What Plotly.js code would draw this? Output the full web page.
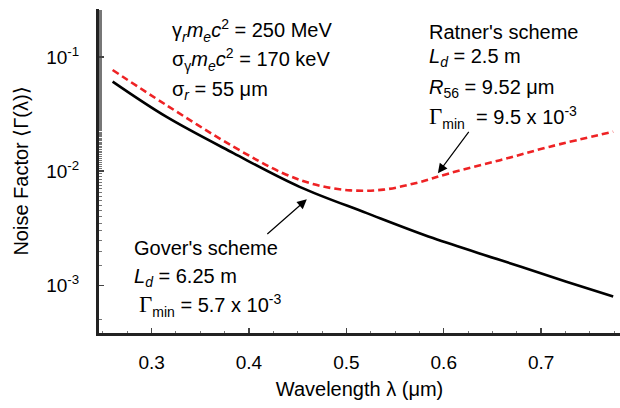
<!DOCTYPE html>
<html>
<head>
<meta charset="utf-8">
<script src="https://cdn.plot.ly/plotly-3.0.1.min.js"></script>
<style>html,body{margin:0;padding:0;background:#fff;overflow:hidden}</style>
</head>
<body>
<div id="chart" style="width:620px;height:408px"></div>
<script>
// Gover's scheme (solid black)
const goverWavelength = [0.26, 0.315, 0.384, 0.452, 0.521, 0.589, 0.658, 0.726, 0.774];
const goverNoise      = [0.0608, 0.0300, 0.0144, 0.0073, 0.0043, 0.0026, 0.00167, 0.00108, 0.0008];
// Ratner's scheme (dashed red)
const ratnerWavelength = [0.26, 0.315, 0.384, 0.435, 0.469, 0.504, 0.538, 0.572, 0.606, 0.658, 0.709, 0.774];
const ratnerNoise      = [0.0769, 0.038, 0.0164, 0.0096, 0.0076, 0.0068, 0.0069, 0.0079, 0.0096, 0.0125, 0.0164, 0.0222];
// Axis ticks
const xTickVals = [0.3, 0.4, 0.5, 0.6, 0.7];
const xTickText = ['0.3', '0.4', '0.5', '0.6', '0.7'];
const yTickVals = [0.001, 0.01, 0.1];
const yTickText = ['10<sup>-3</sup>', '10<sup>-2</sup>', '10<sup>-1</sup>'];

const SANS = 'Liberation Sans, Arial, sans-serif';
const G = '<span style="font-family:Liberation Serif, serif;font-size:23px">Γ</span>';
const NB = '\u00a0';

const traces = [
  {x: goverWavelength, y: goverNoise, type: 'scatter', mode: 'lines',
   line: {color: '#000000', width: 2.6, shape: 'spline', smoothing: 1}, name: "Gover's scheme", hoverinfo: 'skip'},
  {x: ratnerWavelength, y: ratnerNoise, type: 'scatter', mode: 'lines',
   line: {color: '#ee2224', width: 2.6, dash: '7px,4px', shape: 'spline', smoothing: 1}, name: "Ratner's scheme", hoverinfo: 'skip'}
];

function txt(x, y, text) {
  return {xref: 'paper', yref: 'paper', x: x, y: y, xanchor: 'left', yanchor: 'middle',
          text: text, showarrow: false, font: {family: SANS, size: 20, color: '#000'}};
}
function arrow(x, y, ax, ay) {
  return {xref: 'x', yref: 'y', x: x, y: y, ax: ax, ay: ay, text: '', showarrow: true,
          arrowhead: 2, arrowsize: 1.6, arrowwidth: 1.2, arrowcolor: '#000'};
}

const annotations = [
  txt(0.1363, 0.935, 'γ<sub><i>r</i></sub><i>m<sub>e</sub>c</i><sup>2</sup> = 250 MeV'),
  txt(0.1363, 0.8426, 'σ<sub>γ</sub><i>m<sub>e</sub>c</i><sup>2</sup> = 170 keV'),
  txt(0.1363, 0.75, 'σ<sub><i>r</i></sub> = 55 μm'),
  txt(0.6296, 0.929, "Ratner's scheme"),
  txt(0.6296, 0.849, '<i>L<sub>d</sub></i> = 2.5 m'),
  txt(0.6296, 0.756, '<i>R</i><sub>56</sub> = 9.52 μm'),
  txt(0.6296, 0.6636, G + '<sub>min</sub>' + NB + NB + '= 9.5 x 10<sup>-3</sup>'),
  txt(0.0633, 0.2623, "Gover's scheme"),
  txt(0.0633, 0.1728, '<i>L<sub>d</sub></i> = 6.25 m'),
  txt(0.0729, 0.0864, G + '<sub>min</sub> = 5.7 x 10<sup>-3</sup>'),
  arrow(0.594, -2.018, 32, -43),
  arrow(0.4594, -2.246, -41, 36)
];

const layout = {
  width: 620, height: 408,
  margin: {l: 99, r: 0, t: 9, b: 75},
  paper_bgcolor: '#fff', plot_bgcolor: '#fff',
  showlegend: false,
  font: {family: SANS, size: 19, color: '#000'},
  xaxis: {
    range: [0.246, 0.781], showgrid: false, zeroline: false,
    showline: true, linewidth: 3, linecolor: '#222',
    ticks: 'inside', ticklen: 5, tickwidth: 1.5, tickcolor: '#444',
    tickvals: xTickVals, ticktext: xTickText,
    minor: {ticks: 'inside', ticklen: 2.5, tickwidth: 1, tickcolor: '#777', dtick: 0.025},
    ticklabelstandoff: 10,
    title: {text: 'Wavelength λ (μm)', font: {family: SANS, size: 20}, standoff: 11}
  },
  xaxis2: {
    overlaying: 'x', matches: 'x', side: 'top', anchor: 'y', range: [0.246, 0.781],
    showgrid: false, zeroline: false, showline: true, linewidth: 1.5, linecolor: '#222',
    ticks: 'inside', ticklen: 4, tickwidth: 1.2, tickcolor: '#444', tickvals: xTickVals,
    showticklabels: false,
    minor: {ticks: 'inside', ticklen: 2.5, tickwidth: 1, tickcolor: '#777', dtick: 0.025}
  },
  yaxis: {
    type: 'log', range: [-3.416, -0.58], showgrid: false, zeroline: false,
    showline: true, linewidth: 3, linecolor: '#222',
    ticks: 'inside', ticklen: 5, tickwidth: 1.5, tickcolor: '#444',
    tickvals: yTickVals, ticktext: yTickText,
    minor: {ticks: 'inside', ticklen: 2.5, tickwidth: 1, tickcolor: '#777'},
    ticklabelstandoff: 13,
    title: {text: 'Noise Factor ⟨Γ(λ)⟩', font: {family: SANS, size: 20}, standoff: 13}
  },
  annotations: annotations
};

Plotly.newPlot('chart', traces, layout, {displayModeBar: false, staticPlot: true});
</script>
</body>
</html>
